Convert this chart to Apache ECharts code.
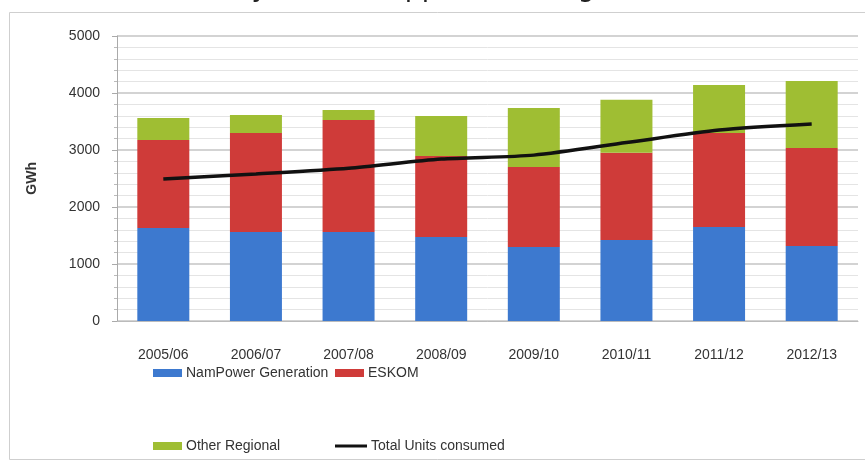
<!DOCTYPE html>
<html>
<head>
<meta charset="utf-8">
<script src="https://cdn.jsdelivr.net/npm/echarts@6/dist/echarts.min.js"></script>
<style>html,body{margin:0;padding:0;background:#fff}#c{width:865px;height:462px}</style>
</head>
<body>
<div id="c"></div>
<script>
const categories = ['2005/06','2006/07','2007/08','2008/09','2009/10','2010/11','2011/12','2012/13'];
const namPower = [1630, 1560, 1560, 1475, 1300, 1420, 1650, 1315];
const eskom = [1545, 1740, 1965, 1420, 1400, 1530, 1650, 1720];
const otherRegional = [385, 315, 175, 700, 1035, 930, 840, 1175];
const totalConsumed = [2490, 2580, 2680, 2840, 2910, 3130, 3350, 3455];
const yTicks = [0, 1000, 2000, 3000, 4000, 5000];

const FONT = 'Liberation Sans';
const chart = echarts.init(document.getElementById('c'));
const legendBase = {
  orient: 'horizontal', itemWidth: 29, itemHeight: 8, itemGap: 4,
  textStyle: {fontFamily: FONT, fontSize: 14, color: '#333', padding: [0,0,0,-1]},
  selectedMode: false, padding: 0
};
chart.setOption({
  animation: false,
  backgroundColor: '#fff',
  graphic: [
    {type: 'rect', shape: {x: 9.5, y: 12.5, width: 870, height: 447}, style: {fill: 'none', stroke: '#cfcfcf', lineWidth: 1}, silent: true},
    {type: 'text', left: -70, top: -25, style: {text: "South Africa, the country's main supplier (see Figure 3.7).", fontFamily: 'DejaVu Sans', fontSize: 27, fill: '#222'}, silent: true},
    {type: 'text', left: 25, top: 162, rotation: Math.PI / 2, style: {text: 'GWh', fontFamily: FONT, fontSize: 14, fontWeight: 'bold', fill: '#333'}, silent: true}
  ],
  grid: {left: 117, right: 7, top: 36, bottom: 141},
  legend: [
    Object.assign({}, legendBase, {left: 153, top: 366, data: [{name: 'NamPower Generation', icon: 'rect'}]}),
    Object.assign({}, legendBase, {left: 335, top: 366, data: [{name: 'ESKOM', icon: 'rect'}]}),
    Object.assign({}, legendBase, {left: 153, top: 439, data: [{name: 'Other Regional', icon: 'rect'}]}),
    Object.assign({}, legendBase, {left: 335, top: 439, itemWidth: 32, itemHeight: 3, data: [{name: 'Total Units consumed', icon: 'rect'}]})
  ],
  xAxis: {
    type: 'category', data: categories,
    axisLine: {show: true, lineStyle: {color: '#bbb', width: 1}},
    axisTick: {show: false},
    axisLabel: {fontFamily: FONT, fontSize: 14, color: '#333', margin: 27}
  },
  yAxis: {
    type: 'value', min: yTicks[0], max: yTicks[yTicks.length - 1], interval: 1000,
    axisLine: {show: true, lineStyle: {color: '#aaa'}},
    axisTick: {show: true, length: 5, lineStyle: {color: '#aaa'}},
    minorTick: {show: true, splitNumber: 5, length: 3, lineStyle: {color: '#bbb'}},
    splitLine: {show: true, lineStyle: {color: '#c4c4c4', width: 1.5}},
    minorSplitLine: {show: true, lineStyle: {color: '#e4e4e4', width: 1}},
    axisLabel: {fontFamily: FONT, fontSize: 14, color: '#333', margin: 17, formatter: function (v) { return String(v); }}
  },
  series: [
    {name: 'NamPower Generation', type: 'bar', stack: 'a', data: namPower, barWidth: 52, itemStyle: {color: '#3d79cf'}},
    {name: 'ESKOM', type: 'bar', stack: 'a', data: eskom, barWidth: 52, itemStyle: {color: '#cf3b39'}},
    {name: 'Other Regional', type: 'bar', stack: 'a', data: otherRegional, barWidth: 52, itemStyle: {color: '#9fbe33'}},
    {name: 'Total Units consumed', type: 'line', data: totalConsumed, smooth: 0.25, symbol: 'none',
     lineStyle: {color: '#111', width: 3.5}, itemStyle: {color: '#111'}, z: 5}
  ]
});
</script>
</body>
</html>
